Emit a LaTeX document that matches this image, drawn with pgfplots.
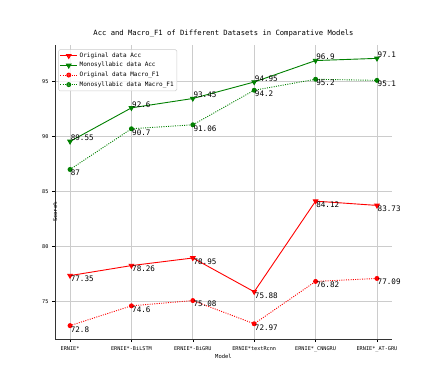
\documentclass[border=0pt]{standalone}
\usepackage{pgfplots}
\pgfplotsset{compat=1.18}
\usepackage{fontspec}
\setmainfont{DejaVu Sans Mono}
\definecolor{mplgreen}{HTML}{008000}
\definecolor{gridc}{HTML}{CCCCCC}

\begin{document}
\begin{tikzpicture}
\path (0pt,0pt) rectangle (436pt,381pt);
\begin{axis}[
  at={(55pt,42pt)}, anchor=south west,
  scale only axis, width=337pt, height=294pt,
  xmin=-0.245, xmax=5.245, ymin=71.585, ymax=98.315,
  axis x line*=bottom, axis y line*=left,
  axis line style={line width=0.8pt, color=black!80},
  xtick={0,1,2,3,4,5},
  xticklabels={ERNIE*, ERNIE*-BiLSTM, ERNIE*-BiGRU, ERNIE*textRcnn, ERNIE*\_CNNGRU, ERNIE*\_AT-GRU},
  ytick={75,80,85,90,95},
  tick align=outside, major tick length=3pt,
  tick style={line width=0.6pt, color=black},
  grid=major, grid style={line width=0.8pt, color=gridc},
  /pgf/number format/assume math mode=true,
  tick label style={font=\fontsize{5.2}{6}\selectfont},
  xticklabel style={yshift=-1pt},
  title={Acc and Macro\_F1 of Different Datasets in Comparative Models},
  title style={font=\fontsize{7.2}{8}\selectfont, at={(0.5,1)}, anchor=base, yshift=3.5pt, inner sep=0pt},
  xlabel={Model}, ylabel={Score\%},
  label style={font=\fontsize{5.5}{6}\selectfont},
  xlabel style={at={(0.5,0)}, anchor=base, yshift=-19pt, inner sep=0pt},
  ylabel style={at={(0,0.5)}, anchor=center, xshift=-20pt},
  legend cell align=left,
  legend style={at={(0.01,0.985)}, anchor=north west, font=\fontsize{6}{7}\selectfont,
    draw=gridc, rounded corners=1.5pt, fill=white, fill opacity=0.8, text opacity=1,
    inner sep=1.2pt, row sep=-0.5pt},
  point meta=explicit symbolic,
  nodes near coords,
  every node near coord/.append style={font=\fontsize{7.6}{8}\selectfont, inner sep=0.3pt, anchor=north west, text=black},
]
\addplot[red, line width=0.9pt, mark=triangle*, mark size=2.6pt, mark options={rotate=180, solid}]
  coordinates {(0,77.35)[77.35] (1,78.26)[78.26] (2,78.95)[78.95] (3,75.88)[75.88] (4,84.12)[84.12] (5,83.73)[83.73]};
\addplot[mplgreen, line width=0.9pt, mark=triangle*, mark size=2.6pt, mark options={rotate=180, solid},
  every node near coord/.append style={anchor=south west}]
  coordinates {(0,89.55)[89.55] (1,92.6)[92.6] (2,93.45)[93.45] (3,94.95)[94.95] (4,96.9)[96.9] (5,97.1)[97.1]};
\addplot[red, line width=0.9pt, dash pattern=on 1pt off 1.3pt, mark=*, mark size=2pt, mark options={solid}]
  coordinates {(0,72.8)[72.8] (1,74.6)[74.6] (2,75.08)[75.08] (3,72.97)[72.97] (4,76.82)[76.82] (5,77.09)[77.09]};
\addplot[mplgreen, line width=0.9pt, dash pattern=on 1pt off 1.3pt, mark=*, mark size=2pt, mark options={solid}]
  coordinates {(0,87)[87] (1,90.7)[90.7] (2,91.06)[91.06] (3,94.2)[94.2] (4,95.2)[95.2] (5,95.1)[95.1]};
\legend{Original data Acc, Monosyllabic data Acc, Original data Macro\_F1, Monosyllabic data Macro\_F1}
\end{axis}
\end{tikzpicture}
\end{document}
